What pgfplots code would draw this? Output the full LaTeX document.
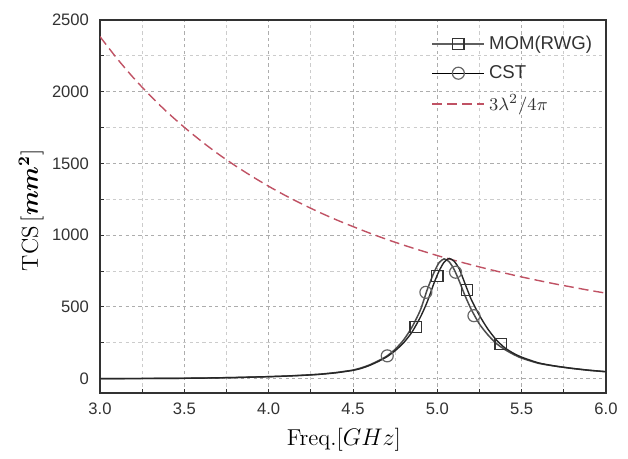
\documentclass[border=0pt]{standalone}
\usepackage{fontspec}
\setsansfont{Liberation Sans}
\usepackage{pgfplots}
\pgfplotsset{compat=1.18}
\definecolor{lamred}{RGB}{192,82,100}
\definecolor{momgray}{RGB}{95,95,95}
\definecolor{txtgray}{RGB}{50,50,50}
\pgfplotstableread{
f    y
3.0  0.5
3.2  1
3.4  2
3.6  4
3.8  8
3.9  11
4.0  14
4.1  18
4.2  23
4.3  30
4.4  41
4.5  58
4.55 72
4.6  93
4.65 120
4.7  152
4.75 195
4.8  250
4.85 325
4.9  430
4.94 535
4.98 665
5.01 750
5.04 812
5.07 838
5.10 818
5.13 765
5.16 675
5.20 555
5.25 440
5.30 345
5.35 270
5.40 215
5.45 178
5.50 150
5.60 110
5.70 88
5.80 72
5.90 59
6.00 49
}\momdata
\pgfplotstableread{
f    y
3.0  0.5
3.2  1
3.4  2
3.6  4
3.8  8
3.9  11
4.0  14
4.1  18
4.2  24
4.3  31
4.4  43
4.5  60
4.55 76
4.6  97
4.65 125
4.7  157
4.75 205
4.8  270
4.85 360
4.9  480
4.94 620
4.98 740
5.01 808
5.04 835
5.07 815
5.10 760
5.13 680
5.16 590
5.20 485
5.25 380
5.30 305
5.35 245
5.40 203
5.45 170
5.50 143
5.60 107
5.70 87
5.80 71
5.90 58
6.00 48
}\cstdata
\pgfplotstableread{
f    y
3.0  2384
3.1  2233
3.2  2095
3.3  1970
3.4  1856
3.5  1752
3.6  1656
3.7  1567
3.8  1486
3.9  1411
4.0  1341
4.1  1276
4.2  1216
4.3  1160
4.4  1108
4.5  1060
4.6  1014
4.7  971
4.8  931
4.9  894
5.0  858
5.1  825
5.2  794
5.3  764
5.4  736
5.5  709
5.6  684
5.7  660
5.8  638
5.9  616
6.0  596
}\lamdata
\begin{document}
\begin{tikzpicture}
\begin{axis}[
  scale only axis, width=253pt, height=186.5pt,
  xmin=3, xmax=6, ymin=-100, ymax=2500,
  xtick={3,3.5,4,4.5,5,5.5,6},
  minor xtick={3.25,3.75,4.25,4.75,5.25,5.75},
  ytick={0,500,1000,1500,2000,2500},
  minor ytick={250,750,1250,1750,2250},
  xtick pos=bottom, ytick pos=left,
  tick align=inside,
  major tick length=2.2pt, minor tick length=2.2pt,
  grid=both,
  major grid style={black!32, dash pattern=on 1.6pt off 1.6pt, line width=0.45pt},
  minor grid style={black!20, dash pattern=on 1.6pt off 1.6pt, line width=0.4pt},
  axis line style={line width=0.6pt, txtgray},
  every tick/.style={txtgray, line width=0.5pt},
  /pgf/number format/assume math mode=true,
  ticklabel style={font=\sffamily\fontsize{8.3}{10}\selectfont, text=txtgray},
  xticklabel style={/pgf/number format/.cd, fixed, fixed zerofill, precision=1, /tikz/.cd, yshift=-1.5pt},
  yticklabel style={/pgf/number format/.cd, 1000 sep={}, /tikz/.cd, xshift=-2pt},
  xlabel={Freq.[$GHz$]},
  ylabel={TCS\,[{\boldmath$mm^2$}]},
  label style={font=\fontsize{11.5}{13}\selectfont},
  xlabel style={at={(axis description cs:0.482,0)}, yshift=-23.5pt, anchor=center},
  ylabel style={at={(axis description cs:-0.136,0.49)}, anchor=center},
  legend style={draw=none, fill=none, at={(0.985,0.975)}, anchor=north east,
    font=\sffamily\fontsize{9.3}{11}\selectfont, text=txtgray, row sep=2.5pt,
    inner sep=1pt},
  legend cell align=left,
  legend image code/.code={\draw[mark repeat=2,mark phase=2,#1] plot coordinates {(0pt,0pt) (13pt,0pt) (26pt,0pt)};},
]
\addlegendimage{momgray, line width=0.7pt, mark=square, mark size=2.8pt, mark options={solid, fill=none, draw=black!80, line width=0.6pt}}
\addlegendentry{MOM(RWG)}
\addlegendimage{black, line width=0.7pt, mark=o, mark size=3pt, mark options={solid, fill=none, draw=black!60, line width=0.6pt}}
\addlegendentry{CST}
\addlegendimage{lamred, line width=0.6pt, dash pattern=on 5pt off 2.5pt}
\addlegendentry{$3\lambda^2/4\pi$}

\addplot[forget plot, lamred, line width=0.7pt, dash pattern=on 5pt off 2.5pt, smooth] table[x=f, y=y] {\lamdata};
\addplot[forget plot, black!70, line width=0.75pt, smooth, tension=0.4] table[x=f, y=y] {\cstdata};
\addplot[forget plot, black!85, line width=0.7pt, smooth, tension=0.4] table[x=f, y=y] {\momdata};
\addplot[forget plot, only marks, mark=square, mark size=2.8pt, mark options={fill=none, draw=black!80, line width=0.6pt}] coordinates {(4.871,362) (5.0,714) (5.177,619) (5.375,241)};
\addplot[forget plot, only marks, mark=o, mark size=3pt, mark options={fill=none, draw=black!60, line width=0.6pt}] coordinates {(4.703,159) (4.932,602) (5.108,742) (5.217,439)};
\end{axis}
\path (current axis.south west) ++(-50pt,-31.5pt);
\path (current axis.north east) ++(11pt,10pt);
\end{tikzpicture}
\end{document}
